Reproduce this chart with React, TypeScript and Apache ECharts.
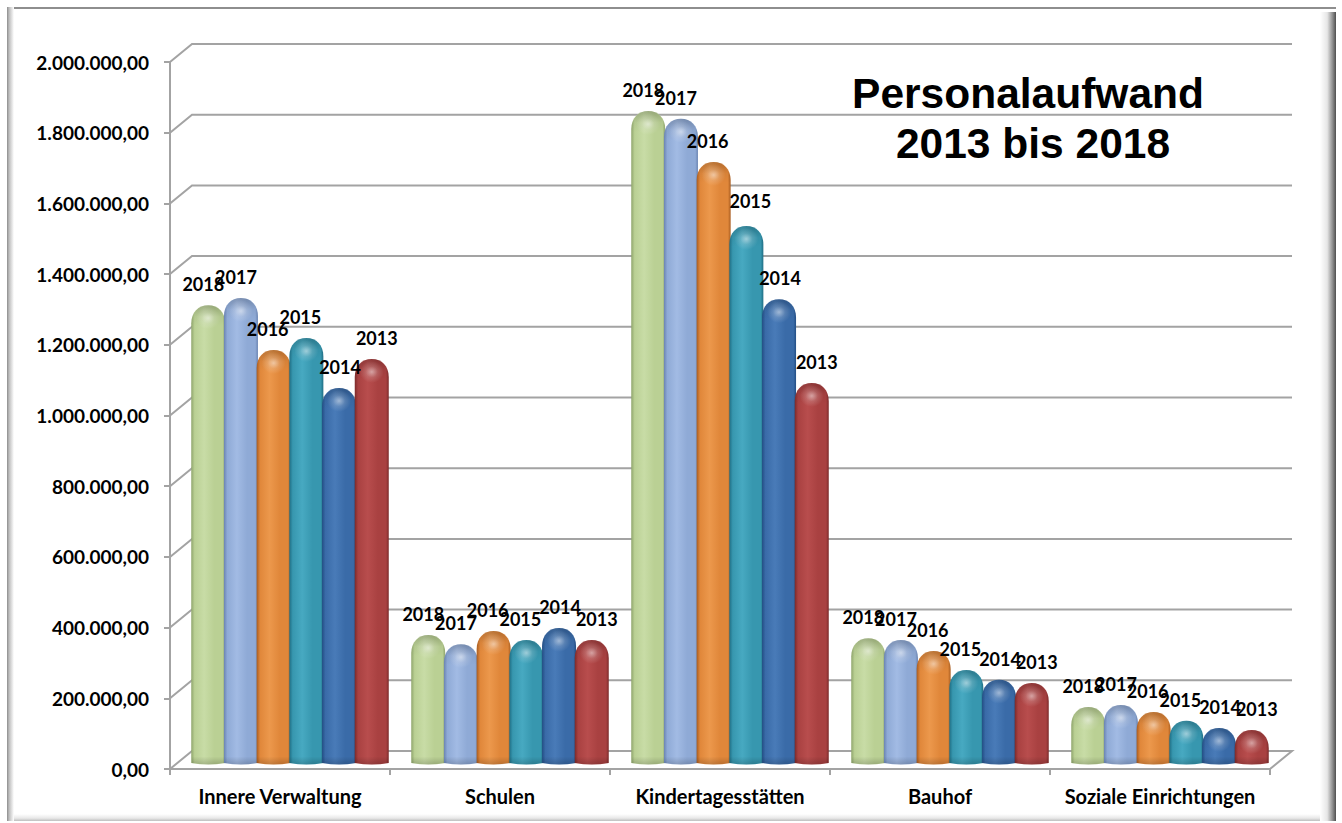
import React, { useEffect, useRef } from "react";
import * as echarts from "echarts";

const categories = ["Innere Verwaltung", "Schulen", "Kindertagesstätten", "Bauhof", "Soziale Einrichtungen"];
const years = ["2018", "2017", "2016", "2015", "2014", "2013"];
const values2018 = [1298000, 365000, 1847000, 356000, 161000];
const values2017 = [1318000, 339000, 1825000, 351000, 167000];
const values2016 = [1171000, 376000, 1703000, 320000, 147000];
const values2015 = [1205000, 351000, 1522000, 266000, 122000];
const values2014 = [1064000, 385000, 1315000, 238000, 102000];
const values2013 = [1146000, 351000, 1078000, 229000, 96000];
const seriesValues = [values2018, values2017, values2016, values2015, values2014, values2013];
const tickValues = [0, 200000, 400000, 600000, 800000, 1000000, 1200000, 1400000, 1600000, 1800000, 2000000];
const tickLabels = ["0,00", "200.000,00", "400.000,00", "600.000,00", "800.000,00", "1.000.000,00", "1.200.000,00", "1.400.000,00", "1.600.000,00", "1.800.000,00", "2.000.000,00"];
const titleLines = ["Personalaufwand", "2013 bis 2018"];
const barColors = [
  { dark: "#8FA56C", mid: "#BAD094", light: "#C8DCA6" },
  { dark: "#6A84B2", mid: "#8FAAD6", light: "#A2BBE4" },
  { dark: "#A85C20", mid: "#E0873A", light: "#EC984C" },
  { dark: "#1F6E84", mid: "#3797AF", light: "#47A9C1" },
  { dark: "#234E84", mid: "#3A6BA8", light: "#497BB8" },
  { dark: "#7C2A2A", mid: "#A94141", light: "#B84D4D" },
];
const labelOffsetX = [-5, -5, -6, -6, 1, 5];

const AXIS = "#A3A3A3";
const LABEL_FONT = "Lato";

echarts.graphic.registerShape(
  "cylinderBar",
  echarts.graphic.extendShape({
    shape: { x: 0, y: 0, w: 0, bottom: 0, dome: 0, sag: 0 },
    buildPath(ctx: any, s: any) {
      const k = 0.6;
      const cx = s.x + s.w / 2;
      ctx.moveTo(s.x, s.y + s.dome);
      ctx.bezierCurveTo(s.x, s.y + s.dome * (1 - k), cx - (s.w / 2) * k, s.y, cx, s.y);
      ctx.bezierCurveTo(cx + (s.w / 2) * k, s.y, s.x + s.w, s.y + s.dome * (1 - k), s.x + s.w, s.y + s.dome);
      ctx.lineTo(s.x + s.w, s.bottom - s.sag);
      ctx.quadraticCurveTo(cx, s.bottom + s.sag, s.x, s.bottom - s.sag);
      ctx.closePath();
    },
  }) as any
);

function renderWall(_: any, api: any) {
  const v = api.value(1);
  const band = api.size([1, 0])[0];
  const p = api.coord([0, v]);
  const x0 = p[0] - band / 2;
  const y = p[1];
  const width = band * categories.length;
  const points = [
    [x0, y],
    [x0 + 22, y - 18],
    [x0 + 22 + width, y - 18],
  ];
  if (v === 0) points.push([x0 + width, y]);
  return {
    type: "polyline",
    shape: { points },
    style: { stroke: AXIS, lineWidth: 2, fill: "none" },
    z2: 0,
  };
}

function makeBarRenderer(j: number) {
  return (_: any, api: any) => {
    const i = api.value(0);
    const v = api.value(1);
    const center = api.coord([i, v]);
    const base = api.coord([i, 0]);
    const step = 32.7;
    const w = 34;
    const cx = center[0] + 10 + (j - 2.5) * step;
    const x = cx - w / 2;
    const top = center[1] - 5;
    const bottom = base[1] - 4.5;
    const dome = 18;
    const c = barColors[j];
    const bodyFill = new echarts.graphic.LinearGradient(0, 0, 1, 0, [
      { offset: 0, color: c.dark },
      { offset: 0.1, color: c.mid },
      { offset: 0.38, color: c.light },
      { offset: 0.68, color: c.mid },
      { offset: 0.92, color: c.mid },
      { offset: 1, color: c.dark },
    ]);
    const domeFill = new echarts.graphic.LinearGradient(0, 0, 0, 1, [
      { offset: 0, color: "rgba(0,0,0,0.2)" },
      { offset: 0.55, color: "rgba(0,0,0,0.04)" },
      { offset: 1, color: "rgba(0,0,0,0)" },
    ]);
    const glow = new echarts.graphic.RadialGradient(0.5, 0.5, 0.5, [
      { offset: 0, color: "rgba(255,255,255,0.5)" },
      { offset: 0.5, color: "rgba(255,255,255,0.16)" },
      { offset: 1, color: "rgba(255,255,255,0)" },
    ]);
    const bottomFill = new echarts.graphic.LinearGradient(0, 0, 0, 1, [
      { offset: 0, color: "rgba(0,0,0,0)" },
      { offset: 1, color: "rgba(0,0,0,0.18)" },
    ]);
    const exceptKita2015 = i === 2 && j === 3;
    return {
      type: "group",
      children: [
        {
          type: "cylinderBar",
          shape: { x, y: top, w, bottom, dome, sag: 1.6 },
          style: { fill: bodyFill },
          z2: 10 + j,
        },
        {
          type: "cylinderBar",
          shape: { x: x + 0.5, y: top, w: w - 1, bottom: top + dome + 3, dome, sag: 0 },
          style: { fill: domeFill },
          z2: 10 + j,
        },
        {
          type: "cylinderBar",
          shape: { x: x + 0.5, y: bottom - 8, w: w - 1, bottom, dome: 0.01, sag: 1.4 },
          style: { fill: bottomFill },
          z2: 10 + j,
        },
        {
          type: "ellipse",
          shape: { cx, cy: top + 13, rx: 12, ry: 11 },
          style: { fill: glow },
          z2: 10 + j,
        },
        {
          type: "text",
          x: cx + (exceptKita2015 ? 4 : labelOffsetX[j]),
          y: top - (exceptKita2015 ? 25 : 21),
          style: {
            text: years[j],
            fontFamily: LABEL_FONT,
            fontWeight: "bold",
            fontSize: 18,
            fill: "#000",
            align: "center",
            verticalAlign: "middle",
          },
          z2: 1000,
        },
      ],
    };
  };
}

function frameGraphics() {
  const lin = (x2: number, y2: number, stops: [number, string][]) =>
    new echarts.graphic.LinearGradient(0, 0, x2, y2, stops.map(([offset, color]) => ({ offset, color })));
  return [
    { type: "rect", silent: true, z: -10, shape: { x: 7, y: 7, width: 1329, height: 814 }, style: { fill: "#fff" } },
    { type: "rect", silent: true, z: -9, shape: { x: 7, y: 7, width: 1329, height: 2 }, style: { fill: "#8E8E8E" } },
    { type: "rect", silent: true, z: -9, shape: { x: 7, y: 7, width: 7, height: 814 }, style: { fill: lin(1, 0, [[0, "#8C8C8C"], [0.3, "#BDBDBD"], [1, "#FFFFFF"]]) } },
    { type: "rect", silent: true, z: -9, shape: { x: 1320, y: 12, width: 16, height: 809 }, style: { fill: lin(1, 0, [[0, "#FFFFFF"], [0.45, "#E6E6E6"], [0.8, "#8A8A8A"], [1, "#4F4F4F"]]) } },
    { type: "rect", silent: true, z: -9, shape: { x: 14, y: 814, width: 1306, height: 7 }, style: { fill: lin(0, 1, [[0, "#FFFFFF"], [0.6, "#E8E8E8"], [1, "#BEBEBE"]]) } },
  ];
}

export default function App() {
  const ref = useRef<HTMLDivElement>(null);
  useEffect(() => {
    document.body.style.margin = "0";
    document.body.style.overflow = "hidden";
    const chart = echarts.init(ref.current!, null, { renderer: "svg" });
    const titleText = (text: string, x: number, y: number) => ({
      type: "text",
      x,
      y,
      z: 100,
      style: {
        text,
        fontFamily: "Liberation Sans",
        fontWeight: "bold",
        fontSize: 42.5,
        fill: "#000",
        align: "center",
        verticalAlign: "middle",
      },
    });
    chart.setOption({
      animation: false,
      backgroundColor: "#fff",
      grid: { left: 170, top: 62, width: 1100, height: 707, containLabel: false },
      graphic: [...frameGraphics(), titleText(titleLines[0], 1028, 93), titleText(titleLines[1], 1033, 143)],
      xAxis: {
        type: "category",
        data: categories,
        axisLine: { show: true, lineStyle: { color: AXIS, width: 2 } },
        axisTick: { show: true, length: 6, lineStyle: { color: AXIS, width: 2 } },
        axisLabel: { color: "#000", fontFamily: LABEL_FONT, fontWeight: "bold", fontSize: 20, margin: 17, interval: 0 },
        splitLine: { show: false },
      },
      yAxis: {
        type: "value",
        min: 0,
        max: 2000000,
        interval: 200000,
        axisLine: { show: true, lineStyle: { color: AXIS, width: 2 } },
        axisTick: { show: true, length: 6, lineStyle: { color: AXIS, width: 2 } },
        axisLabel: {
          color: "#000",
          fontFamily: LABEL_FONT,
          fontWeight: "bold",
          fontSize: 19,
          margin: 21,
          padding: [6, 0, 0, 0],
          formatter: (val: number) => tickLabels[tickValues.indexOf(val)] ?? "",
        },
        splitLine: { show: false },
      },
      series: [
        {
          type: "custom",
          name: "Raster",
          renderItem: renderWall,
          data: tickValues.map((t) => [0, t]),
          encode: { x: 0, y: 1 },
          silent: true,
          z: 2,
          clip: false,
        },
        ...years.map((year, j) => ({
          type: "custom",
          name: year,
          renderItem: makeBarRenderer(j),
          data: seriesValues[j].map((v, i) => [i, v]),
          encode: { x: 0, y: 1 },
          silent: true,
          z: 2,
          clip: false,
        })),
      ],
    });
    return () => chart.dispose();
  }, []);
  return <div ref={ref} style={{ position: "absolute", left: 0, top: 0, width: 1342, height: 823 }} />;
}
